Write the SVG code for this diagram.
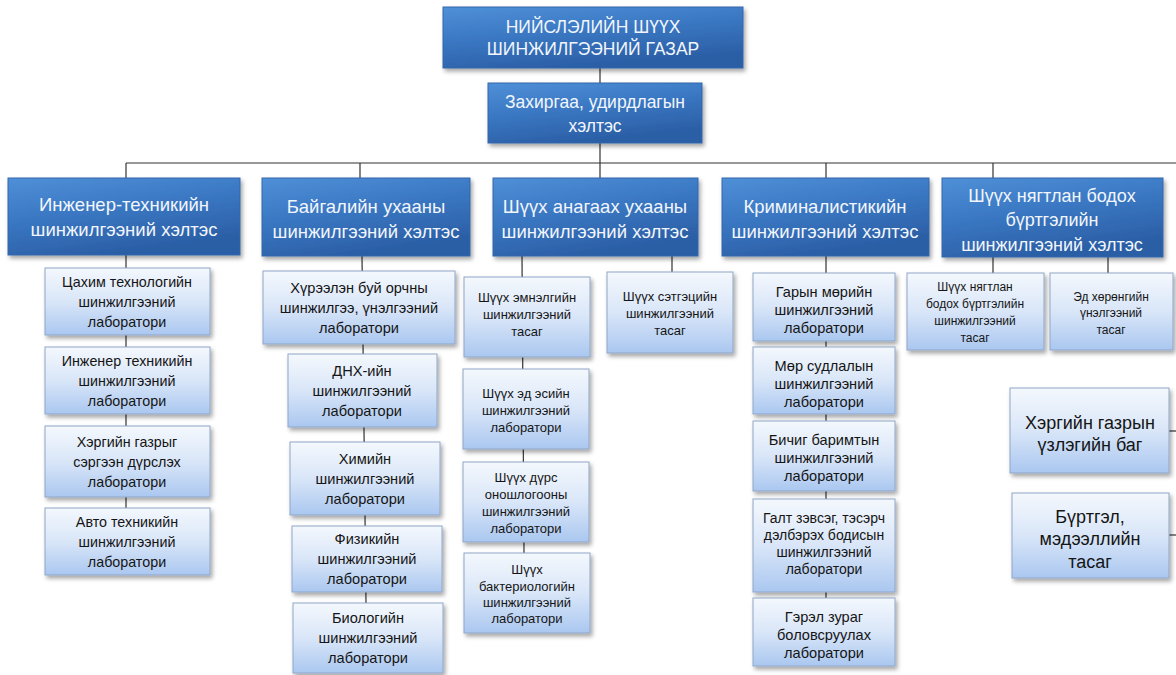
<svg xmlns="http://www.w3.org/2000/svg" width="1176" height="675" viewBox="0 0 1176 675">
<defs>
<linearGradient id="gHdr" x1="0" y1="0" x2="0.4" y2="1">
<stop offset="0" stop-color="#4f90d8"/>
<stop offset="0.5" stop-color="#3a77c2"/>
<stop offset="1" stop-color="#2b5fa6"/>
</linearGradient>
<linearGradient id="gSub" x1="0" y1="0" x2="0" y2="1">
<stop offset="0" stop-color="#f4f8fd"/>
<stop offset="0.5" stop-color="#d9e6f8"/>
<stop offset="1" stop-color="#aac7f0"/>
</linearGradient>
<filter id="sh" x="-10%" y="-10%" width="125%" height="130%">
<feDropShadow dx="2" dy="3" stdDeviation="2" flood-color="#000" flood-opacity="0.35"/>
</filter>
</defs>
<style>
.hdr rect{fill:url(#gHdr);stroke:#3567aa;stroke-width:1;filter:url(#sh)}
.sub rect{fill:url(#gSub);stroke:#8fa6c8;stroke-width:1;filter:url(#sh)}
.hdr text{fill:#f2f6fc;font-family:"Liberation Sans",Arial,sans-serif;text-anchor:middle}
.sub text{fill:#151515;font-family:"Liberation Sans",Arial,sans-serif;text-anchor:middle}
.f17{font-size:17.5px}.f18{font-size:18.5px}.f18r{font-size:18px}.f14{font-size:14.3px}.f14b{font-size:14.6px}.f13{font-size:14px}.f12{font-size:13px}.f12s{font-size:12px}
#connectors line{stroke:#333;stroke-width:1.2}
</style>
<rect width="1176" height="675" fill="#ffffff"/>
<g id="connectors">
<line x1="600" y1="68" x2="600" y2="83"/>
<line x1="600" y1="143" x2="600" y2="163"/>
<line x1="126" y1="163" x2="1176" y2="163"/>
<line x1="126" y1="163" x2="126" y2="178"/>
<line x1="360" y1="163" x2="360" y2="178"/>
<line x1="600" y1="163" x2="600" y2="178"/>
<line x1="826" y1="163" x2="826" y2="178"/>
<line x1="993" y1="163" x2="993" y2="178"/>
<line x1="126" y1="255" x2="126" y2="508"/>
<line x1="362" y1="256" x2="366" y2="603"/>
<line x1="522" y1="256" x2="524" y2="553"/>
<line x1="672" y1="256" x2="672" y2="272"/>
<line x1="826" y1="256" x2="826" y2="598"/>
<line x1="993" y1="257" x2="993" y2="273"/>
<line x1="1108" y1="257" x2="1108" y2="273"/>
<line x1="1169" y1="431" x2="1176" y2="431"/>
<line x1="1169" y1="535" x2="1176" y2="535"/>
</g>
<g id="n-top" class="hdr"><rect x="443" y="7" width="300" height="61"/>
<text class="f17" x="593" y="33">НИЙСЛЭЛИЙН ШҮҮХ</text><text class="f17" x="593" y="55">ШИНЖИЛГЭЭНИЙ ГАЗАР</text></g>
<g id="n-admin" class="hdr"><rect x="488" y="83" width="214" height="60"/>
<text class="f17" x="595" y="108">Захиргаа, удирдлагын</text><text class="f17" x="595" y="132">хэлтэс</text></g>
<g id="h1" class="hdr"><rect x="8" y="178" width="232" height="77"/>
<text class="f18" x="124" y="211">Инженер-техникийн</text><text class="f18" x="124" y="236">шинжилгээний хэлтэс</text></g>
<g id="h2" class="hdr"><rect x="262" y="178" width="208" height="78"/>
<text class="f18" x="366" y="213">Байгалийн ухааны</text><text class="f18" x="366" y="238">шинжилгээний хэлтэс</text></g>
<g id="h3" class="hdr"><rect x="493" y="178" width="205" height="78"/>
<text class="f18" x="595" y="213">Шүүх анагаах ухааны</text><text class="f18" x="595" y="238">шинжилгээний хэлтэс</text></g>
<g id="h4" class="hdr"><rect x="722" y="178" width="207" height="78"/>
<text class="f18" x="825" y="213">Криминалистикийн</text><text class="f18" x="825" y="238">шинжилгээний хэлтэс</text></g>
<g id="h5" class="hdr"><rect x="942" y="178" width="221" height="79"/>
<text class="f18r" x="1052" y="202">Шүүх нягтлан бодох</text><text class="f18r" x="1052" y="226">бүртгэлийн</text><text class="f18r" x="1052" y="251">шинжилгээний хэлтэс</text></g>
<g id="c1a" class="sub"><rect x="45" y="268" width="165" height="67"/>
<text class="f14" x="127" y="287">Цахим технологийн</text><text class="f14" x="127" y="307">шинжилгээний</text><text class="f14" x="127" y="327">лаборатори</text></g>
<g id="c1b" class="sub"><rect x="45" y="347" width="165" height="67"/>
<text class="f14" x="127" y="366">Инженер техникийн</text><text class="f14" x="127" y="386">шинжилгээний</text><text class="f14" x="127" y="406">лаборатори</text></g>
<g id="c1c" class="sub"><rect x="45" y="426" width="165" height="71"/>
<text class="f14" x="127" y="447">Хэргийн газрыг</text><text class="f14" x="127" y="467">сэргээн дүрслэх</text><text class="f14" x="127" y="487">лаборатори</text></g>
<g id="c1d" class="sub"><rect x="45" y="508" width="165" height="67"/>
<text class="f14" x="127" y="527">Авто техникийн</text><text class="f14" x="127" y="547">шинжилгээний</text><text class="f14" x="127" y="567">лаборатори</text></g>
<g id="c2a" class="sub"><rect x="263" y="271" width="192" height="73"/>
<text class="f14b" x="359" y="293">Хүрээлэн буй орчны</text><text class="f14b" x="359" y="313">шинжилгээ, үнэлгээний</text><text class="f14b" x="359" y="333">лаборатори</text></g>
<g id="c2b" class="sub"><rect x="288" y="354" width="149" height="73"/>
<text class="f14b" x="362" y="376">ДНХ-ийн</text><text class="f14b" x="362" y="396">шинжилгээний</text><text class="f14b" x="362" y="416">лаборатори</text></g>
<g id="c2c" class="sub"><rect x="290" y="442" width="150" height="73"/>
<text class="f14b" x="365" y="464">Химийн</text><text class="f14b" x="365" y="484">шинжилгээний</text><text class="f14b" x="365" y="504">лаборатори</text></g>
<g id="c2d" class="sub"><rect x="292" y="526" width="150" height="66"/>
<text class="f14b" x="367" y="544">Физикийн</text><text class="f14b" x="367" y="564">шинжилгээний</text><text class="f14b" x="367" y="584">лаборатори</text></g>
<g id="c2e" class="sub"><rect x="293" y="603" width="150" height="70"/>
<text class="f14b" x="368" y="623">Биологийн</text><text class="f14b" x="368" y="643">шинжилгээний</text><text class="f14b" x="368" y="663">лаборатори</text></g>
<g id="c3a" class="sub"><rect x="464" y="277" width="126" height="80"/>
<text class="f12" x="527" y="302">Шүүх эмнэлгийн</text><text class="f12" x="527" y="319">шинжилгээний</text><text class="f12" x="527" y="336">тасаг</text></g>
<g id="c3b" class="sub"><rect x="607" y="272" width="126" height="81"/>
<text class="f12" x="670" y="301">Шүүх сэтгэцийн</text><text class="f12" x="670" y="318">шинжилгээний</text><text class="f12" x="670" y="335">тасаг</text></g>
<g id="c3c" class="sub"><rect x="463" y="369" width="126" height="80"/>
<text class="f12" x="526" y="398">Шүүх эд эсийн</text><text class="f12" x="526" y="415">шинжилгээний</text><text class="f12" x="526" y="432">лаборатори</text></g>
<g id="c3d" class="sub"><rect x="463" y="462" width="126" height="80"/>
<text class="f12" x="526" y="482">Шүүх дүрс</text><text class="f12" x="526" y="499">оношлогооны</text><text class="f12" x="526" y="516">шинжилгээний</text><text class="f12" x="526" y="533">лаборатори</text></g>
<g id="c3e" class="sub"><rect x="464" y="553" width="126" height="80"/>
<text class="f12" x="527" y="574">Шүүх</text><text class="f12" x="527" y="591">бактериологийн</text><text class="f12" x="527" y="607">шинжилгээний</text><text class="f12" x="527" y="623">лаборатори</text></g>
<g id="c4a" class="sub"><rect x="753" y="273" width="142" height="68"/>
<text class="f14b" x="824" y="297">Гарын мөрийн</text><text class="f14b" x="824" y="315">шинжилгээний</text><text class="f14b" x="824" y="333">лаборатори</text></g>
<g id="c4b" class="sub"><rect x="753" y="347" width="142" height="67"/>
<text class="f14b" x="824" y="371">Мөр судлалын</text><text class="f14b" x="824" y="389">шинжилгээний</text><text class="f14b" x="824" y="407">лаборатори</text></g>
<g id="c4c" class="sub"><rect x="753" y="421" width="142" height="70"/>
<text class="f14b" x="824" y="445">Бичиг баримтын</text><text class="f14b" x="824" y="463">шинжилгээний</text><text class="f14b" x="824" y="481">лаборатори</text></g>
<g id="c4d" class="sub"><rect x="753" y="499" width="142" height="93"/>
<text class="f13" x="824" y="523">Галт зэвсэг, тэсэрч</text><text class="f13" x="824" y="540">дэлбэрэх бодисын</text><text class="f13" x="824" y="557">шинжилгээний</text><text class="f13" x="824" y="574">лаборатори</text></g>
<g id="c4e" class="sub"><rect x="753" y="598" width="142" height="68"/>
<text class="f14b" x="824" y="622">Гэрэл зураг</text><text class="f14b" x="824" y="640">боловсруулах</text><text class="f14b" x="824" y="658">лаборатори</text></g>
<g id="c5a" class="sub"><rect x="907" y="273" width="137" height="77"/>
<text class="f12s" x="975" y="291">Шүүх нягтлан</text><text class="f12s" x="975" y="308">бодох бүртгэлийн</text><text class="f12s" x="975" y="325">шинжилгээний</text><text class="f12s" x="975" y="342">тасаг</text></g>
<g id="c5b" class="sub"><rect x="1050" y="273" width="123" height="77"/>
<text class="f12s" x="1111" y="301">Эд хөрөнгийн</text><text class="f12s" x="1111" y="317">үнэлгээний</text><text class="f12s" x="1111" y="334">тасаг</text></g>
<g id="r1" class="sub"><rect x="1010" y="388" width="159" height="85"/>
<text class="f18r" x="1090" y="429">Хэргийн газрын</text><text class="f18r" x="1090" y="451">үзлэгийн баг</text></g>
<g id="r2" class="sub"><rect x="1012" y="493" width="157" height="85"/>
<text class="f18r" x="1090" y="523">Бүртгэл,</text><text class="f18r" x="1090" y="545">мэдээллийн</text><text class="f18r" x="1090" y="568">тасаг</text></g>
</svg>
